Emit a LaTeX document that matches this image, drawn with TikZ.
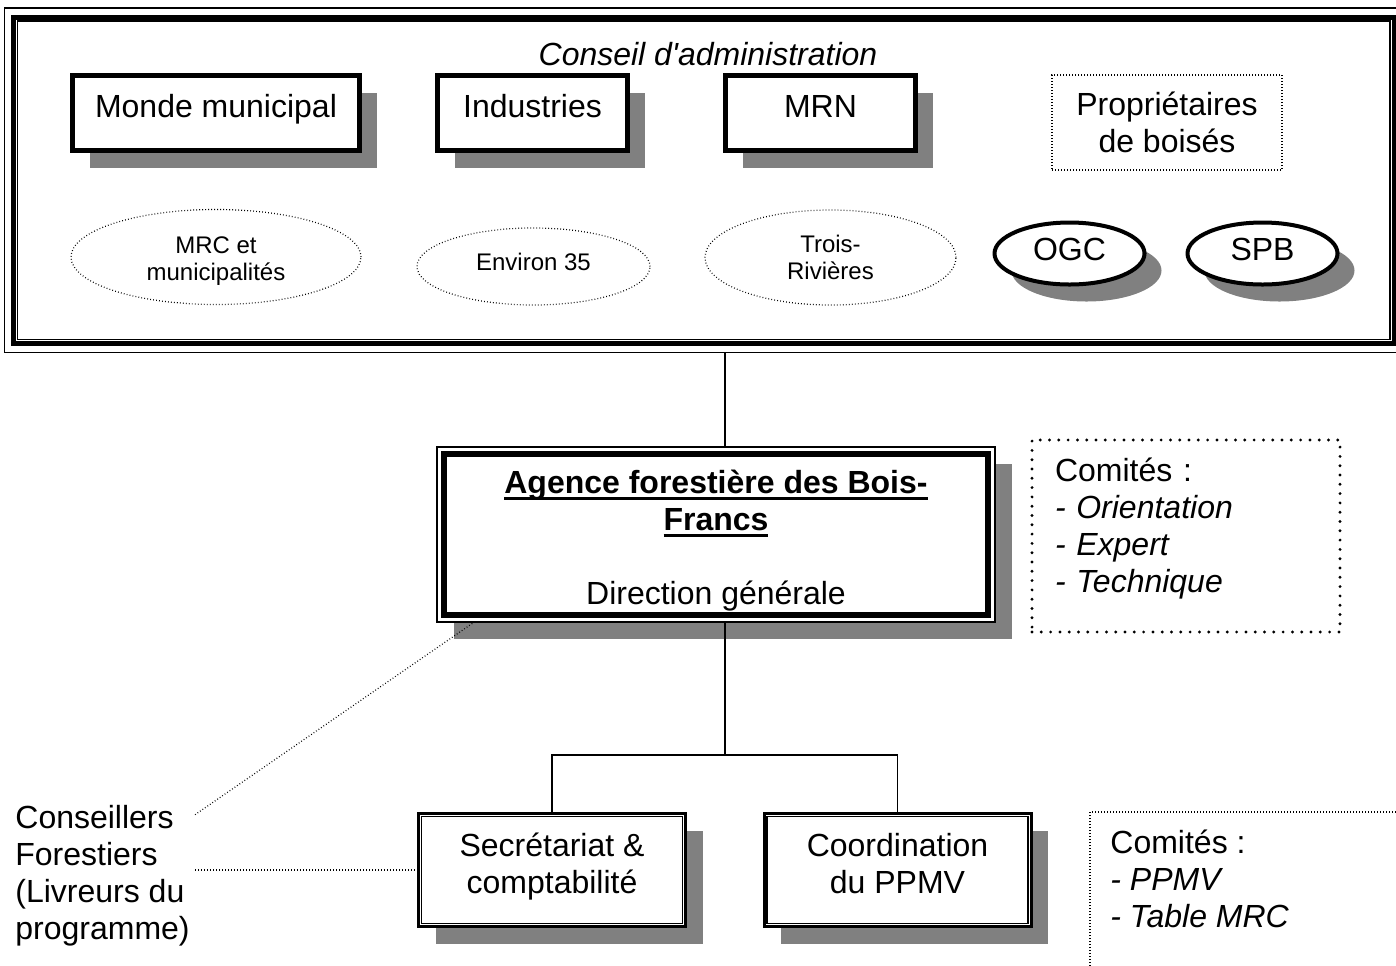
\documentclass[tikz,border=0pt]{standalone}
\usepackage{fontspec}
\setmainfont{Liberation Sans}
\usetikzlibrary{shadows,shapes.geometric,calc}

\newcommand{\grand}{\fontsize{16}{18.5}\selectfont}
\newcommand{\petit}{\fontsize{12}{13.5}\selectfont}
\newcommand{\souligne}[1]{\leavevmode\setbox0\hbox{#1}\rlap{\rule[-3.1pt]{\wd0}{1.6pt}}\box0}

\tikzset{
  ombre/.style={general shadow={fill=gray, shadow xshift=8.5pt, shadow yshift=-8.5pt}},
  membre/.style={draw, fill=white, line width=2.5pt, minimum height=37.5pt, inner sep=0, text height=12pt, text depth=7.5pt, ombre, font=\grand},
  cercle/.style={ellipse, draw, fill=white, line width=2pt, minimum width=75pt, minimum height=31pt, inner sep=0, text height=12pt, text depth=5pt, ombre, font=\grand},
  pointille/.style={line width=0.6pt, dash pattern=on 0.4pt off 1.1pt},
  groupe/.style={ellipse, draw, pointille, inner sep=0, align=center, font=\petit},
  grospoints/.style={line width=1.6pt, dash pattern=on 0pt off 4.65pt, line cap=round},
  service/.style={draw, fill=white, line width=1.5pt, minimum width=133.5pt, minimum height=56.5pt, inner sep=0, align=center, ombre, font=\grand},
  trait/.style={line width=0.75pt}
}

\begin{document}
\begin{tikzpicture}[x=0.5pt,y=-0.5pt]
\useasboundingbox (0,0) rectangle (1396,965);

% conseil d'administration
\node [draw, line width=2.5pt, minimum width=690.25pt, minimum height=163.25pt, inner sep=0] (conseil) at (703.75,180.25) {};
\draw [trait] ([shift={(-3.25pt,3.25pt)}]conseil.north west) rectangle ([shift={(3.25pt,-3.25pt)}]conseil.south east);
\draw [trait] ([shift={(3.25pt,-3.25pt)}]conseil.north west) rectangle ([shift={(-3.25pt,3.25pt)}]conseil.south east);
\node [font=\grand\itshape] (titre) at (708,54) {Conseil d\textquotesingle{}administration};

\node [membre, minimum width=143.5pt] (monde) at (216,113) {Monde municipal};
\node [membre, minimum width=95pt] (industries) at (532.5,113) {Industries};
\node [membre, minimum width=95pt] (mrn) at (820.5,113) {MRN};
\node [draw, pointille, minimum width=115pt, minimum height=47.5pt, align=center, font=\grand] (proprios) at (1167,122.5) {Propriétaires\\de boisés};

\node [groupe, minimum width=145pt, minimum height=47.5pt] (mrc) at (216,257) {\rule{0pt}{13pt}MRC et\\municipalités\rule[-3pt]{0pt}{3pt}};
\node [groupe, minimum width=116.5pt, minimum height=38.5pt, text height=9pt, text depth=5pt] (environ) at (533.5,266.5) {Environ 35};
\node [groupe, minimum width=125.5pt, minimum height=47.5pt] (trois) at (830.5,257.5) {Trois-\\Rivières};
\node [cercle] (ogc) at (1069.5,253.5) {OGC};
\node [cercle] (spb) at (1262.5,253.5) {SPB};

% direction
\node [draw, fill=white, trait, minimum width=279pt, minimum height=87.5pt, inner sep=0, align=center, ombre, font=\grand] (agence) at (716,534.5)
  {\rule{0pt}{18pt}\textbf{\souligne{Agence forestière des Bois-}}\\\textbf{\souligne{Francs}}\\[18.5pt]Direction générale};
\draw [line width=3pt] ([shift={(4pt,-4pt)}]agence.north west) rectangle ([shift={(-4pt,4pt)}]agence.south east);

\node [draw, grospoints, minimum width=154pt, minimum height=96pt, text width=131pt, inner xsep=11.5pt, align=left, font=\grand] (comites) at (1186,536)
  {\rule{0pt}{16pt}Comités :\\\textit{- Orientation}\\\textit{- Expert}\\\textit{- Technique}\rule[-15pt]{0pt}{15pt}};

% services
\node [service] (secr) at (552,870) {\rule{0pt}{16pt}Secrétariat \&\\comptabilité\rule[-11pt]{0pt}{11pt}};
\node [service] (coord) at (897.5,870) {\rule{0pt}{16pt}Coordination\\du PPMV\rule[-11pt]{0pt}{11pt}};
\draw [trait] ([shift={(2.25pt,-2.25pt)}]secr.north west) rectangle ([shift={(-2.25pt,2.25pt)}]secr.south east);
\draw [trait] ([shift={(2.25pt,-2.25pt)}]coord.north west) rectangle ([shift={(-2.25pt,2.25pt)}]coord.south east);

\node [anchor=west, inner sep=0, align=left, font=\grand] (conseillers) at (15,875.5) {Conseillers\\Forestiers\\(Livreurs du\\programme)};

\node [anchor=north west, inner sep=0, align=left, font=\grand] (pilotage) at (1110,830) {Comités :\\\textit{- PPMV}\\\textit{- Table MRC}};
\draw [pointille] (1090,990) |- (1420,812);

% liens
\coordinate (noeud) at (725,755);
\draw [trait] ([yshift=-3.25pt]noeud |- conseil.south) -- (noeud |- agence.north);
\draw [trait] (noeud |- agence.south) -- (noeud);
\draw [trait] (noeud) -| (secr.north);
\draw [trait] (noeud) -| (coord.north);

\coordinate (c1) at (conseillers.east |- secr.west);
\draw [pointille] ([shift={(2.5pt,-5pt)}]conseillers.north east) -- ([xshift=18.5pt]agence.south west);
\draw [pointille] ([xshift=2.5pt]c1) -- (secr.west);
\end{tikzpicture}
\end{document}
